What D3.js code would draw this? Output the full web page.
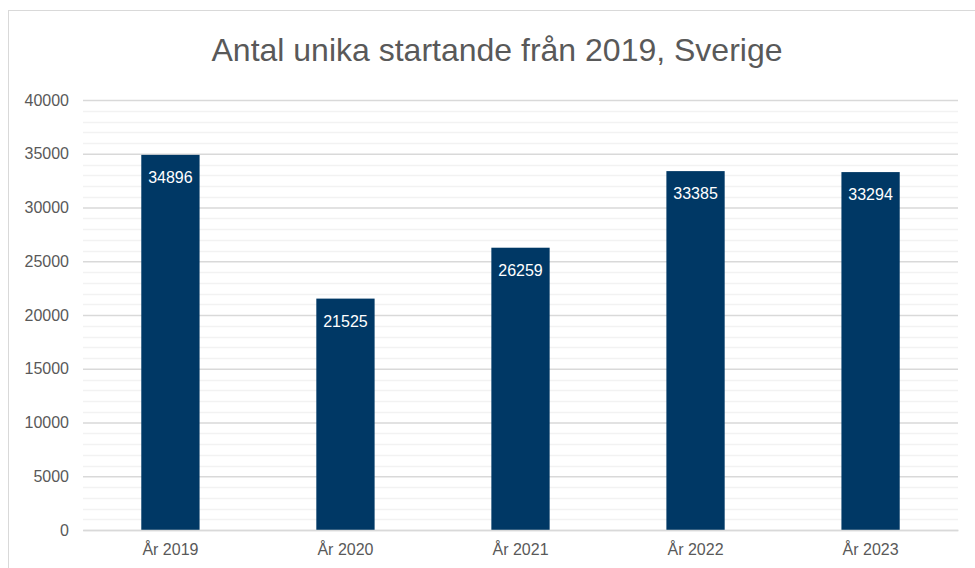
<!DOCTYPE html>
<html>
<head>
<meta charset="utf-8">
<script src="https://cdn.jsdelivr.net/npm/d3@7"></script>
<style>
  html, body { margin: 0; padding: 0; background: #fff; }
  svg { display: block; font-family: "Liberation Sans", Arial, sans-serif; }
</style>
</head>
<body>
<svg id="chart" width="975" height="568"></svg>
<script>
const title = "Antal unika startande från 2019, Sverige";
const categories = ["År 2019", "År 2020", "År 2021", "År 2022", "År 2023"];
const values = [34896, 21525, 26259, 33385, 33294];
const yMajorTicks = [0, 5000, 10000, 15000, 20000, 25000, 30000, 35000, 40000];
const yMinorTicks = d3.range(0, 40001, 1000);

const svg = d3.select("#chart");
const W = 975, H = 568;
const margin = { left: 83, right: 17, top: 100, bottom: 38 };

// outer chart border
svg.append("rect")
  .attr("x", 8.5).attr("y", 10.5)
  .attr("width", W).attr("height", H)
  .attr("fill", "#fff").attr("stroke", "#d9d9d9").attr("stroke-width", 1);

const x = d3.scaleBand().domain(categories)
  .range([margin.left, W - margin.right])
  .paddingInner(0.667).paddingOuter(0.333);
const y = d3.scaleLinear().domain([0, 40000]).range([H - margin.bottom, margin.top]);

// minor gridlines
svg.append("g").selectAll("line")
  .data(yMinorTicks.filter(v => v % 5000 !== 0))
  .join("line")
  .attr("x1", margin.left).attr("x2", W - margin.right)
  .attr("y1", d => Math.round(y(d)) + 0.5).attr("y2", d => Math.round(y(d)) + 0.5)
  .attr("stroke", "#f2f2f2").attr("stroke-width", 1.5);

// major gridlines via axis
const yAxis = d3.axisLeft(y).tickValues(yMajorTicks).tickFormat(d3.format("d"))
  .tickSize(-(W - margin.left - margin.right)).tickPadding(14);
const gy = svg.append("g").attr("transform", `translate(${margin.left},0)`).call(yAxis);
gy.select(".domain").remove();
gy.selectAll(".tick line").attr("stroke", "#d9d9d9").attr("stroke-width", 1.5);
gy.selectAll(".tick text").attr("fill", "#595959").attr("font-size", 16)
  .attr("font-family", "Liberation Sans, Arial, sans-serif");

// bars
svg.append("g").selectAll("rect")
  .data(values)
  .join("rect")
  .attr("x", (d, i) => x(categories[i]))
  .attr("width", x.bandwidth())
  .attr("y", d => y(d))
  .attr("height", d => y(0) - y(d))
  .attr("fill", "#003865");

// data labels
svg.append("g").selectAll("text")
  .data(values)
  .join("text")
  .attr("x", (d, i) => x(categories[i]) + x.bandwidth() / 2)
  .attr("y", d => y(d) + 28)
  .attr("text-anchor", "middle")
  .attr("fill", "#ffffff")
  .attr("font-size", 16)
  .text(d => d);

// x axis
const xAxis = d3.axisBottom(x).tickSize(0).tickPadding(14);
const gx = svg.append("g").attr("transform", `translate(0,${y(0)})`).call(xAxis);
gx.select(".domain").attr("stroke", "#d9d9d9").attr("stroke-width", 1.5);
gx.selectAll(".tick text").attr("fill", "#595959").attr("font-size", 16)
  .attr("font-family", "Liberation Sans, Arial, sans-serif");

// title
svg.append("text")
  .attr("x", 497).attr("y", 61)
  .attr("text-anchor", "middle")
  .attr("fill", "#595959")
  .attr("font-size", 32)
  .text(title);
</script>
</body>
</html>
